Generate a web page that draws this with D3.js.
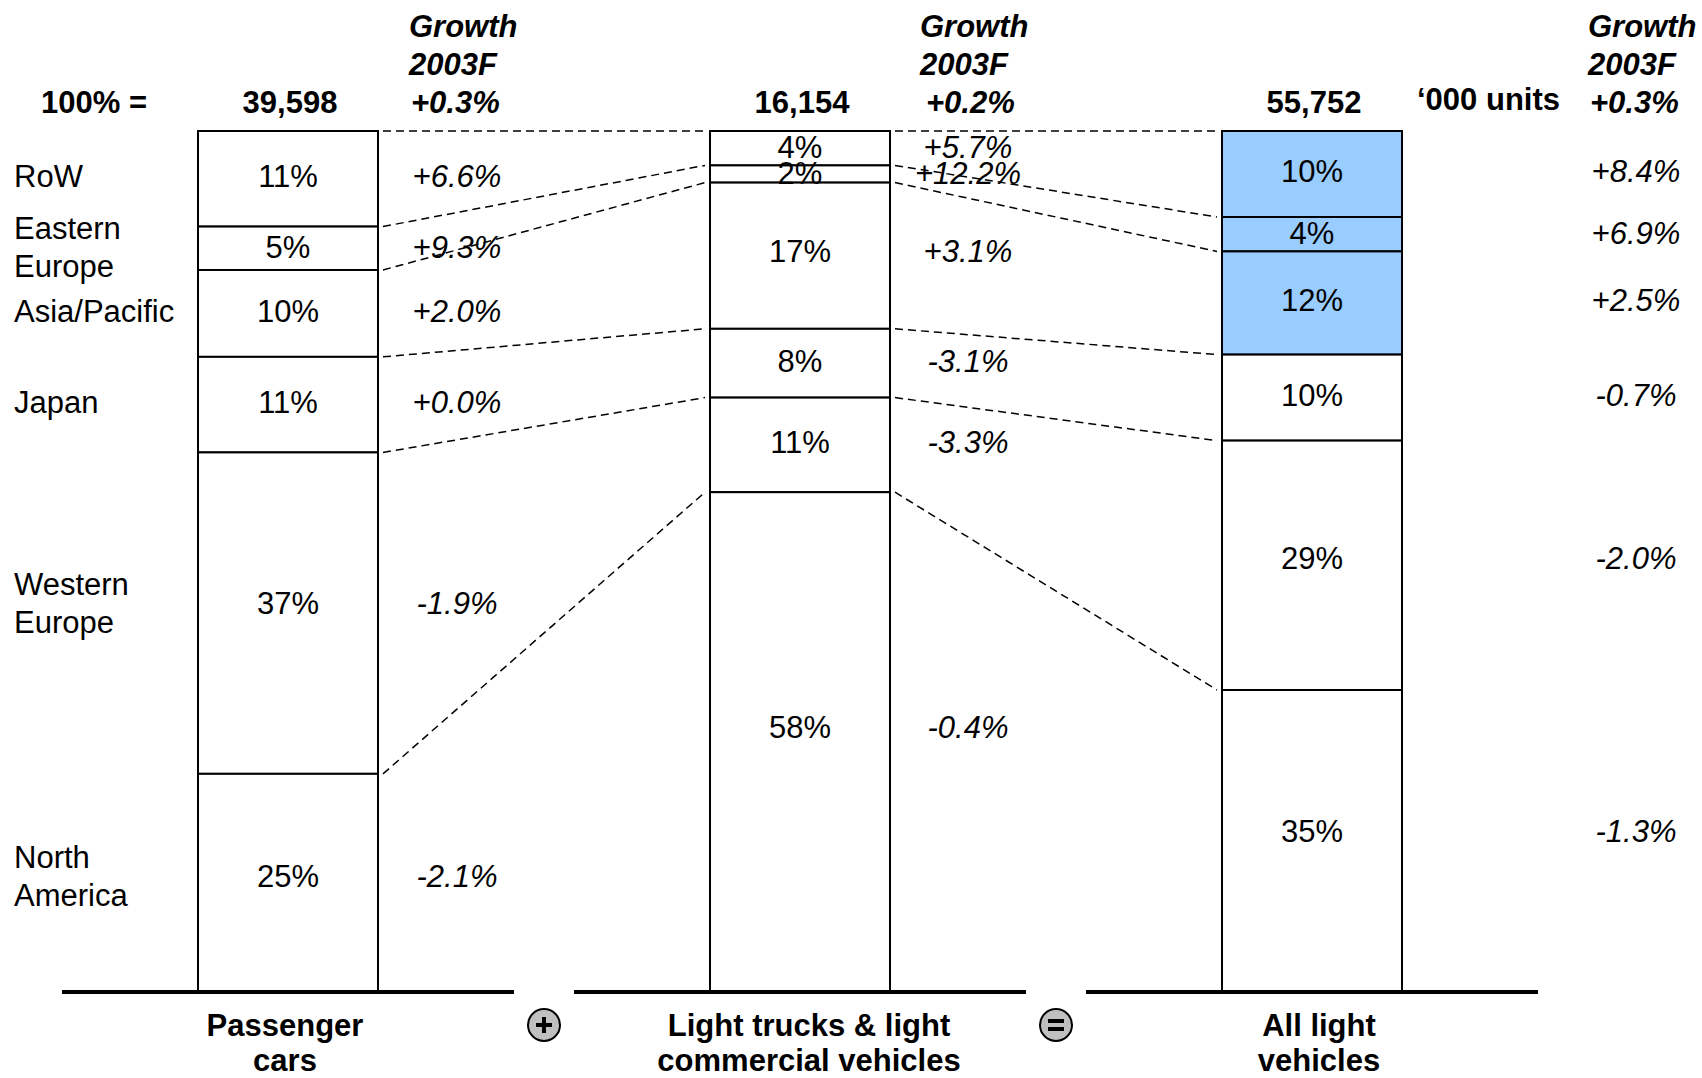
<!DOCTYPE html>
<html>
<head>
<meta charset="utf-8">
<script src="https://cdn.jsdelivr.net/npm/d3@7"></script>
<style>
  html, body { margin: 0; padding: 0; background: #fff; }
  svg { display: block; font-family: "Liberation Sans", Arial, Helvetica, sans-serif; }
</style>
</head>
<body>
<svg id="chart" width="1702" height="1078"></svg>
<script>
// Light vehicle production by region, 2002, with 2003 growth forecast
const regions = ["RoW", "Eastern Europe", "Asia/Pacific", "Japan", "Western Europe", "North America"];
const regionLines = [["RoW"], ["Eastern", "Europe"], ["Asia/Pacific"], ["Japan"], ["Western", "Europe"], ["North", "America"]];

const groups = ["Passenger cars", "Light trucks & light commercial vehicles", "All light vehicles"];
const groupLines = [["Passenger", "cars"], ["Light trucks & light", "commercial vehicles"], ["All light", "vehicles"]];

// '000 units
const totals = [39598, 16154, 55752];
const totalGrowth = [0.3, 0.2, 0.3];

// Share of each region, %
const sharePassenger = [11, 5, 10, 11, 37, 25];
const shareTrucks = [4, 2, 17, 8, 11, 58];
const shareAll = [10, 4, 12, 10, 29, 35];

// Growth 2003F, %
const growthPassenger = [6.6, 9.3, 2.0, 0.0, -1.9, -2.1];
const growthTrucks = [5.7, 12.2, 3.1, -3.1, -3.3, -0.4];
const growthAll = [8.4, 6.9, 2.5, -0.7, -2.0, -1.3];

// Regions shaded in the combined column
const highlightAll = ["RoW", "Eastern Europe", "Asia/Pacific"];

const shares = [sharePassenger, shareTrucks, shareAll];
const growths = [growthPassenger, growthTrucks, growthAll];

const svg = d3.select("#chart");
const FS = 31;
const barW = 180;
const barTop = 131, barBase = 991;

const locale = d3.formatLocale({ decimal: ".", thousands: ",", grouping: [3], currency: ["", ""], minus: "-" });
const fmtGrowth = v => locale.format("+.1f")(v) + "%";
const fmtTotal = locale.format(",");

const x = d3.scalePoint().domain(groups).range([288, 1312]);
const growthColX = [457, 968, 1636];
const groupLabelX = [285, 809, 1319];

// label anchor inside a segment: centre, lifted slightly in tall segments
const labelY = (y, d) => {
  const a = y(d.y0), b = y(d.y1);
  return (a + b) / 2 - 0.03 * (b - a);
};

// stacked segments per column
const cols = groups.map((g, gi) => {
  const vals = shares[gi];
  const y = d3.scaleLinear().domain([0, d3.sum(vals)]).range([barTop, barBase]);
  let cum = 0;
  const segs = regions.map((r, ri) => {
    const s = { region: r, value: vals[ri], growth: growths[gi][ri], y0: cum, y1: cum + vals[ri] };
    cum += vals[ri];
    return s;
  });
  return { group: g, gi, y, segs, cx: x(g) };
});

// dashed connectors between adjacent columns
const connectors = svg.append("g").attr("stroke", "#000").attr("stroke-width", 1.5)
  .attr("stroke-dasharray", "8,5").attr("fill", "none");
for (let c = 0; c < cols.length - 1; c++) {
  const a = cols[c], b = cols[c + 1];
  a.segs.forEach((s, i) => {
    connectors.append("line")
      .attr("x1", a.cx + barW / 2 + 5).attr("y1", a.y(s.y0))
      .attr("x2", b.cx - barW / 2 - 5).attr("y2", b.y(b.segs[i].y0));
  });
}

// bars
cols.forEach(col => {
  const g = svg.append("g");
  g.selectAll("rect").data(col.segs).join("rect")
    .attr("x", col.cx - barW / 2)
    .attr("y", d => col.y(d.y0))
    .attr("width", barW)
    .attr("height", d => col.y(d.y1) - col.y(d.y0))
    .attr("fill", d => (col.gi === 2 && highlightAll.includes(d.region)) ? "#99CCFF" : "#fff")
    .attr("stroke", "#000").attr("stroke-width", 2);

  g.selectAll("text.share").data(col.segs).join("text")
    .attr("class", "share")
    .attr("x", col.cx)
    .attr("y", d => labelY(col.y, d) + 11)
    .attr("text-anchor", "middle")
    .attr("font-size", FS)
    .text(d => d.value + "%");

  g.selectAll("text.growth").data(col.segs).join("text")
    .attr("class", "growth")
    .attr("x", growthColX[col.gi])
    .attr("y", d => labelY(col.y, d) + 11)
    .attr("text-anchor", "middle")
    .attr("font-size", FS)
    .attr("font-style", "italic")
    .text(d => fmtGrowth(d.growth));

  // baseline
  svg.append("line")
    .attr("x1", col.cx - 226).attr("x2", col.cx + 226)
    .attr("y1", barBase + 1).attr("y2", barBase + 1)
    .attr("stroke", "#000").attr("stroke-width", 4);

  // totals
  svg.append("text")
    .attr("x", col.cx + 2).attr("y", 113)
    .attr("text-anchor", "middle").attr("font-size", FS).attr("font-weight", "bold")
    .text(fmtTotal(totals[col.gi]));

  // growth header
  const hx = growthColX[col.gi] - 48;
  const hdr = svg.append("text").attr("font-size", FS).attr("font-weight", "bold").attr("font-style", "italic");
  hdr.append("tspan").attr("x", hx).attr("y", 37).text("Growth");
  hdr.append("tspan").attr("x", hx).attr("y", 75).text("2003F");
  hdr.append("tspan").attr("x", hx + (col.gi === 1 ? 6 : 2)).attr("y", 113).text(fmtGrowth(totalGrowth[col.gi]));

  // group label
  const gl = svg.append("text").attr("text-anchor", "middle").attr("font-size", FS).attr("font-weight", "bold");
  groupLines[col.gi].forEach((ln, i) => {
    gl.append("tspan").attr("x", groupLabelX[col.gi]).attr("y", 1036 + i * 35).text(ln);
  });
});

svg.append("text").attr("x", 41).attr("y", 113).attr("font-size", FS).attr("font-weight", "bold").text("100% =");
svg.append("text").attr("x", 1417).attr("y", 110).attr("font-size", FS).attr("font-weight", "bold").text("\u2018000 units");

// region labels alongside the first column
const c0 = cols[0];
c0.segs.forEach((s, i) => {
  const lines = regionLines[i];
  const mid = labelY(c0.y, s);
  const t = svg.append("text").attr("font-size", FS);
  lines.forEach((ln, j) => {
    t.append("tspan").attr("x", 14)
      .attr("y", mid + 11 + (j - (lines.length - 1) / 2) * 38)
      .text(ln);
  });
});

// operator symbols between columns
const ops = ["+", "="];
ops.forEach((op, i) => {
  const cx = (cols[i].cx + cols[i + 1].cx) / 2, cy = 1025;
  const g = svg.append("g");
  g.append("circle").attr("cx", cx).attr("cy", cy).attr("r", 16)
    .attr("fill", "#C0C0C0").attr("stroke", "#000").attr("stroke-width", 2);
  if (op === "+") {
    g.append("rect").attr("x", cx - 8).attr("y", cy - 2).attr("width", 16).attr("height", 4).attr("fill", "#000");
    g.append("rect").attr("x", cx - 2).attr("y", cy - 8).attr("width", 4).attr("height", 16).attr("fill", "#000");
  } else {
    g.append("rect").attr("x", cx - 8).attr("y", cy - 6).attr("width", 16).attr("height", 4).attr("fill", "#000");
    g.append("rect").attr("x", cx - 8).attr("y", cy + 2).attr("width", 16).attr("height", 4).attr("fill", "#000");
  }
});
</script>
</body>
</html>
